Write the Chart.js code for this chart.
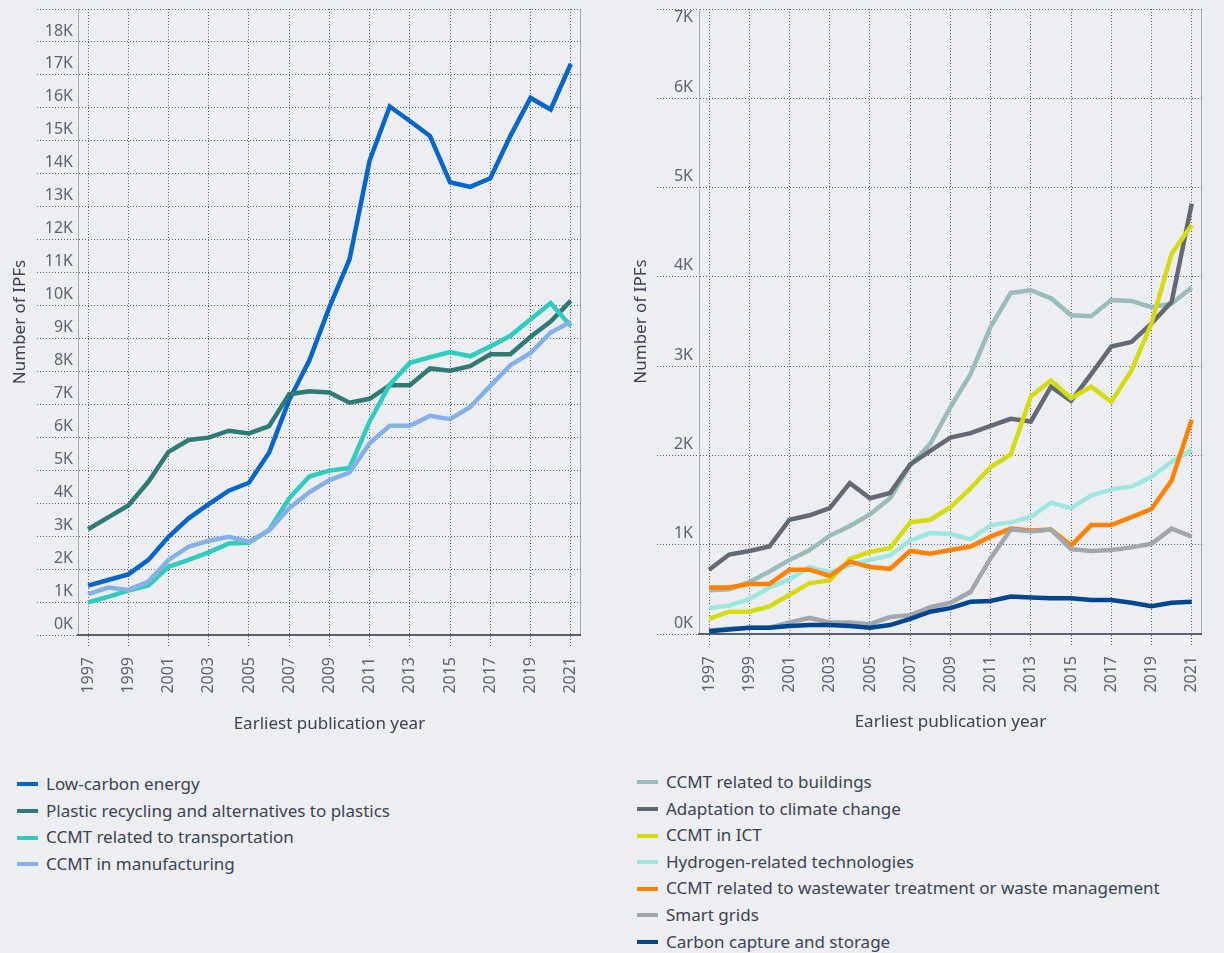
<!DOCTYPE html>
<html>
<head>
<meta charset="utf-8">
<script src="https://cdn.jsdelivr.net/npm/chart.js@4/dist/chart.umd.min.js"></script>
<style>
  body { margin: 0; background: #eceef1; width: 1224px; height: 953px; overflow: hidden; position: relative; font-family: 'Noto Sans', sans-serif; }
  .box { position: absolute; top: 0; height: 745px; }
  .legend { position: absolute; color: #3c4350; font-size: 17px; }
  .legend div { height: 26.6px; line-height: 26.6px; white-space: nowrap; }
  .legend span { display: inline-block; width: 21px; height: 4px; margin-right: 8px; vertical-align: middle; position: relative; top: -1px; }
</style>
</head>
<body>
<div class="box" style="left:0;width:600px"><canvas id="leftChart"></canvas></div>
<div class="box" style="left:620px;width:601px"><canvas id="rightChart"></canvas></div>
<div class="legend" id="leftLegend" style="left:17px;top:771px"></div>
<div class="legend" id="rightLegend" style="left:637px;top:769px"></div>
<script>
var years = ['1997','1998','1999','2000','2001','2002','2003','2004','2005','2006','2007','2008','2009',
  '2010','2011','2012','2013','2014','2015','2016','2017','2018','2019','2020','2021'];

// left panel
var lowCarbon = [1500,1670,1840,2280,2980,3540,3970,4380,4620,5530,7130,8330,9950,11400,14400,16040,15600,15150,13740,13600,13860,15150,16300,15950,17330];
var plastics = [3210,3570,3930,4650,5560,5920,5990,6200,6120,6340,7310,7400,7360,7050,7170,7580,7580,8090,8020,8160,8520,8520,9050,9510,10140];
var transport = [990,1160,1350,1500,2070,2280,2510,2780,2800,3190,4150,4810,4990,5070,6480,7600,8260,8430,8590,8460,8760,9080,9580,10070,9380];
var manufacturing = [1240,1440,1370,1620,2280,2680,2860,2980,2830,3170,3850,4330,4700,4930,5820,6350,6350,6650,6550,6920,7560,8190,8560,9180,9510];

// right panel
var buildings = [490,500,580,700,830,940,1100,1210,1340,1520,1890,2130,2540,2910,3440,3820,3850,3760,3570,3560,3740,3730,3660,3700,3880];
var adaptation = [720,890,930,980,1280,1330,1410,1690,1520,1580,1900,2050,2200,2250,2330,2410,2380,2770,2610,2910,3220,3270,3480,3720,4820];
var ict = [170,250,250,310,440,570,600,840,920,960,1250,1280,1420,1630,1870,2010,2660,2840,2640,2770,2600,2950,3480,4260,4580];
var hydrogen = [290,320,390,520,610,750,690,770,830,880,1050,1130,1120,1060,1220,1250,1310,1470,1410,1550,1620,1650,1760,1930,2060];
var wastewater = [520,520,560,560,720,720,650,810,750,730,930,900,940,980,1090,1180,1160,1170,990,1220,1220,1310,1400,1720,2400];
var smartGrids = [40,60,70,70,130,180,130,130,110,190,210,300,350,470,850,1170,1150,1170,950,930,940,970,1010,1180,1090];
var ccs = [30,50,70,70,90,100,100,90,70,100,170,250,290,360,370,420,410,400,400,380,380,350,310,350,360];

var leftSeries = [
  { label: 'Low-carbon energy', data: lowCarbon, color: '#0565c9' },
  { label: 'Plastic recycling and alternatives to plastics', data: plastics, color: '#307a75' },
  { label: 'CCMT related to transportation', data: transport, color: '#30ccbe' },
  { label: 'CCMT in manufacturing', data: manufacturing, color: '#86b1e7' }
];
var rightSeries = [
  { label: 'CCMT related to buildings', data: buildings, color: '#9cbcbb' },
  { label: 'Adaptation to climate change', data: adaptation, color: '#646a74' },
  { label: 'CCMT in ICT', data: ict, color: '#d4dc10' },
  { label: 'Hydrogen-related technologies', data: hydrogen, color: '#9ee7e1' },
  { label: 'CCMT related to wastewater treatment or waste management', data: wastewater, color: '#ff8200' },
  { label: 'Smart grids', data: smartGrids, color: '#a3a6ab' },
  { label: 'Carbon capture and storage', data: ccs, color: '#00468f' }
];

Chart.defaults.font.family = "'Noto Sans', sans-serif";
var tickColor = '#5d6470';
var titleColor = '#3c4350';
var dotColor = 'rgba(70,76,88,0.9)';
var hidden = 'rgba(0,0,0,0)';

function makeChart(id, series, opts) {
  var datasets = series.map(function (s, i) {
    return {
      label: s.label,
      data: s.data,
      borderColor: s.color,
      backgroundColor: s.color,
      borderWidth: 4.5,
      pointRadius: 0,
      tension: 0,
      order: series.length - 1 - i
    };
  });
  return new Chart(document.getElementById(id), {
    type: 'line',
    data: { labels: years, datasets: datasets },
    options: {
      animation: false,
      responsive: true,
      maintainAspectRatio: false,
      layout: { padding: { top: 9, right: 3, bottom: 0, left: 0 } },
      plugins: { legend: { display: false }, tooltip: { enabled: false } },
      scales: {
        x: {
          offset: true,
          grid: {
            offset: false,
            color: function (ctx) { return ctx.index % 2 === 0 ? dotColor : hidden; },
            tickColor: function (ctx) { return ctx.index % 2 === 0 ? dotColor : hidden; },
            tickBorderDash: [1, 2],
            tickLength: 12,
            lineWidth: 1
          },
          border: { display: true, color: '#5a606b', width: 2, dash: [1, 2] },
          ticks: {
            autoSkip: false,
            minRotation: 90,
            maxRotation: 90,
            padding: 10,
            color: tickColor,
            font: { size: 16 },
            callback: function (v, i) { return i % 2 === 0 ? this.getLabelForValue(v) : ''; }
          },
          title: {
            display: true,
            text: 'Earliest publication year',
            color: titleColor,
            font: { size: 17 },
            padding: { top: 0, bottom: opts.xTitlePad }
          },
          afterFit: function (s) { s.height = opts.xHeight; }
        },
        // labels + title; tick marks come from yTicks below
        y: {
          min: 0,
          max: opts.max,
          weight: 1,
          grid: { color: dotColor, drawTicks: false, lineWidth: 1 },
          border: { display: true, color: 'rgba(70,76,88,0.4)', dash: [1, 2], width: 1 },
          ticks: {
            stepSize: 1000,
            padding: opts.yGap,
            labelOffset: -11,
            color: tickColor,
            font: { size: 16 },
            callback: opts.yLabel
          },
          title: {
            display: true,
            text: 'Number of IPFs',
            color: titleColor,
            font: { size: 17 },
            padding: { top: opts.yTitlePad, bottom: 0 }
          },
          afterFit: function (s) { s.width = opts.yWidth; s.paddingTop = 0; s.paddingBottom = 0; }
        },
        // dotted tick extensions running under the labels
        yTicks: {
          position: 'left',
          min: 0,
          max: opts.max,
          weight: 0,
          grid: {
            drawOnChartArea: false,
            tickColor: dotColor,
            tickBorderDash: [1, 2],
            tickLength: opts.yTick
          },
          border: { display: false },
          ticks: { stepSize: 1000, display: false },
          afterFit: function (s) { s.width = 0; s.paddingTop = 0; s.paddingBottom = 0; }
        },
        y2: {
          position: 'right',
          display: true,
          grid: { display: false },
          ticks: { display: false },
          border: { display: true, color: 'rgba(70,76,88,0.4)', width: 1 },
          afterFit: function (s) { s.width = 0; s.paddingTop = 0; s.paddingBottom = 0; }
        }
      }
    }
  });
}

makeChart('leftChart', leftSeries, {
  max: 19000, xHeight: 110, xTitlePad: 11, yWidth: 78, yTick: 41, yGap: 5, yTitlePad: 10,
  yLabel: function (v) { return v >= 19000 ? '' : (v / 1000) + 'K'; }
});
makeChart('rightChart', rightSeries, {
  max: 7000, xHeight: 111, xTitlePad: 13, yWidth: 79, yTick: 42, yGap: 6, yTitlePad: 11,
  yLabel: function (v) { return v >= 7000 ? ['', '', '7K'] : (v / 1000) + 'K'; }
});

function buildLegend(id, series) {
  var el = document.getElementById(id);
  series.forEach(function (s) {
    var row = document.createElement('div');
    var sw = document.createElement('span');
    sw.style.background = s.color;
    row.appendChild(sw);
    row.appendChild(document.createTextNode(s.label));
    el.appendChild(row);
  });
}
buildLegend('leftLegend', leftSeries);
buildLegend('rightLegend', rightSeries);
</script>
</body>
</html>
